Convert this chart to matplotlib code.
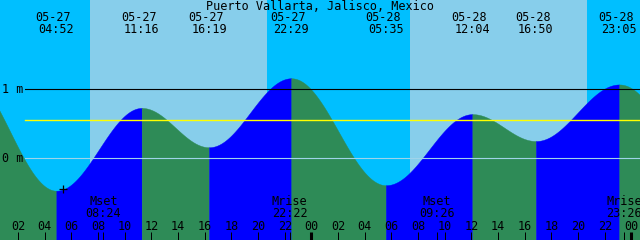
import numpy as np
import matplotlib
matplotlib.use("Agg")
import matplotlib.pyplot as plt

# tide extremes shown on the chart (local time, metres)
tide_dates = ["05-27", "05-27", "05-27", "05-27", "05-28", "05-28", "05-28", "05-28"]
tide_times = ["04:52", "11:16", "16:19", "22:29", "05:35", "12:04", "16:50", "23:05"]
tide_levels = [-0.47, 0.73, 0.16, 1.16, -0.39, 0.64, 0.25, 1.07]

# extremes just outside the window (curve enters / leaves the picture)
prev_extreme = ("05-26", "21:55", 1.25)
next_extreme = ("05-29", "06:15", -0.30)

sun_dates = ["05-27", "05-28"]
sunrise = ["07:22", "07:22"]
sunset = ["20:38", "20:38"]

moon_events = ["Mset", "Mrise", "Mset", "Mrise"]
moon_dates = ["05-27", "05-27", "05-28", "05-28"]
moon_times = ["08:24", "22:22", "09:26", "23:26"]

mark_time = ("05-27", "05:22")
mark_level = -0.44

mean_level = 0.555
title = "Puerto Vallarta, Jalisco, Mexico"

day_offset = {"05-26": -24, "05-27": 0, "05-28": 24, "05-29": 48}


def to_hours(d, t):
    hh, mm = t.split(":")
    return day_offset[d] + int(hh) + int(mm) / 60.0


# colours
night_c = "#00BFFF"
day_c = "#87CEEB"
rise_c = "#0000FF"
fall_c = "#2E8B57"

px_per_h = 640 / 48.0
x0 = 0.64
x1 = x0 + 48
y_lo, y_hi = -1.184, 2.294

fig = plt.figure(figsize=(6.4, 2.4), dpi=100)
ax = fig.add_axes([0, 0, 1, 1])
ax.set_xlim(x0, x1)
ax.set_ylim(y_lo, y_hi)
ax.axis("off")

plt.rcParams["font.family"] = "DejaVu Sans Mono"
fs = 8.5

# night / day background
ax.axvspan(x0, x1, color=night_c, lw=0, zorder=0)
for d, sr, ss in zip(sun_dates, sunrise, sunset):
    ax.axvspan(to_hours(d, sr), to_hours(d, ss), color=day_c, lw=0, zorder=1)

# water, blue while rising and green while falling
ext_h = [to_hours(*prev_extreme[:2])] + [to_hours(d, t) for d, t in zip(tide_dates, tide_times)] \
    + [to_hours(*next_extreme[:2])]
ext_l = [prev_extreme[2]] + tide_levels + [next_extreme[2]]
for i in range(len(ext_h) - 1):
    t = np.linspace(ext_h[i], ext_h[i + 1], 200)
    frac = (t - ext_h[i]) / (ext_h[i + 1] - ext_h[i])
    lev = ext_l[i] + (ext_l[i + 1] - ext_l[i]) * (1 - np.cos(np.pi * frac)) / 2
    c = rise_c if ext_l[i + 1] > ext_l[i] else fall_c
    ax.fill_between(t, lev, y_lo, color=c, lw=0.3, edgecolor=c, zorder=2)

# level lines
xm = 25 / 640.0
ax.axhline(1.0, xmin=xm, color="black", lw=0.8, zorder=3)
ax.axhline(0.0, xmin=xm, color="#9FD4EA", lw=0.8, zorder=3)
ax.axhline(mean_level, xmin=xm, color="#FFFF00", lw=1.0, zorder=3)
ax.text(x0 + 2 / px_per_h, 1.0, "1 m", fontsize=fs, ha="left", va="center", zorder=4)
ax.text(x0 + 2 / px_per_h, 0.0, "0 m", fontsize=fs, ha="left", va="center", zorder=4)

tr = ax.get_xaxis_transform()

ax.text((x0 + x1) / 2, 1 - 6.5 / 240, title, fontsize=fs, ha="center", va="center", transform=tr, zorder=5)
for d, t in zip(tide_dates, tide_times):
    h = to_hours(d, t)
    ax.text(h - 3 / px_per_h, 1 - 17.5 / 240, d, fontsize=fs, ha="center", va="center", transform=tr, zorder=5)
    ax.text(h, 1 - 29.5 / 240, t, fontsize=fs, ha="center", va="center", transform=tr, zorder=5)

ax.plot(to_hours(*mark_time), mark_level, marker="+", color="black", ms=6, mew=0.9, zorder=5)

# moon rise / set
for ev, d, t in zip(moon_events, moon_dates, moon_times):
    h = to_hours(d, t)
    ax.text(h, 1 - 201.5 / 240, ev, fontsize=fs, ha="center", va="center", transform=tr, zorder=5)
    ax.text(h, 1 - 213.5 / 240, t, fontsize=fs, ha="center", va="center", transform=tr, zorder=5)
    ax.vlines(h, 0, 8.5 / 240, color="black", lw=0.72, transform=tr, zorder=5)

# hour ticks
for hr in range(2, 49, 2):
    lab = "%02d" % (hr % 24)
    ax.text(hr, 1 - 226 / 240, lab, fontsize=fs, ha="center", va="center", transform=tr, zorder=5)
    lw = 2.2 if hr % 24 == 0 else 0.72
    ax.vlines(hr, 0, 8.5 / 240, color="black", lw=lw, transform=tr, zorder=5)

fig.savefig("out.png", dpi=100)
